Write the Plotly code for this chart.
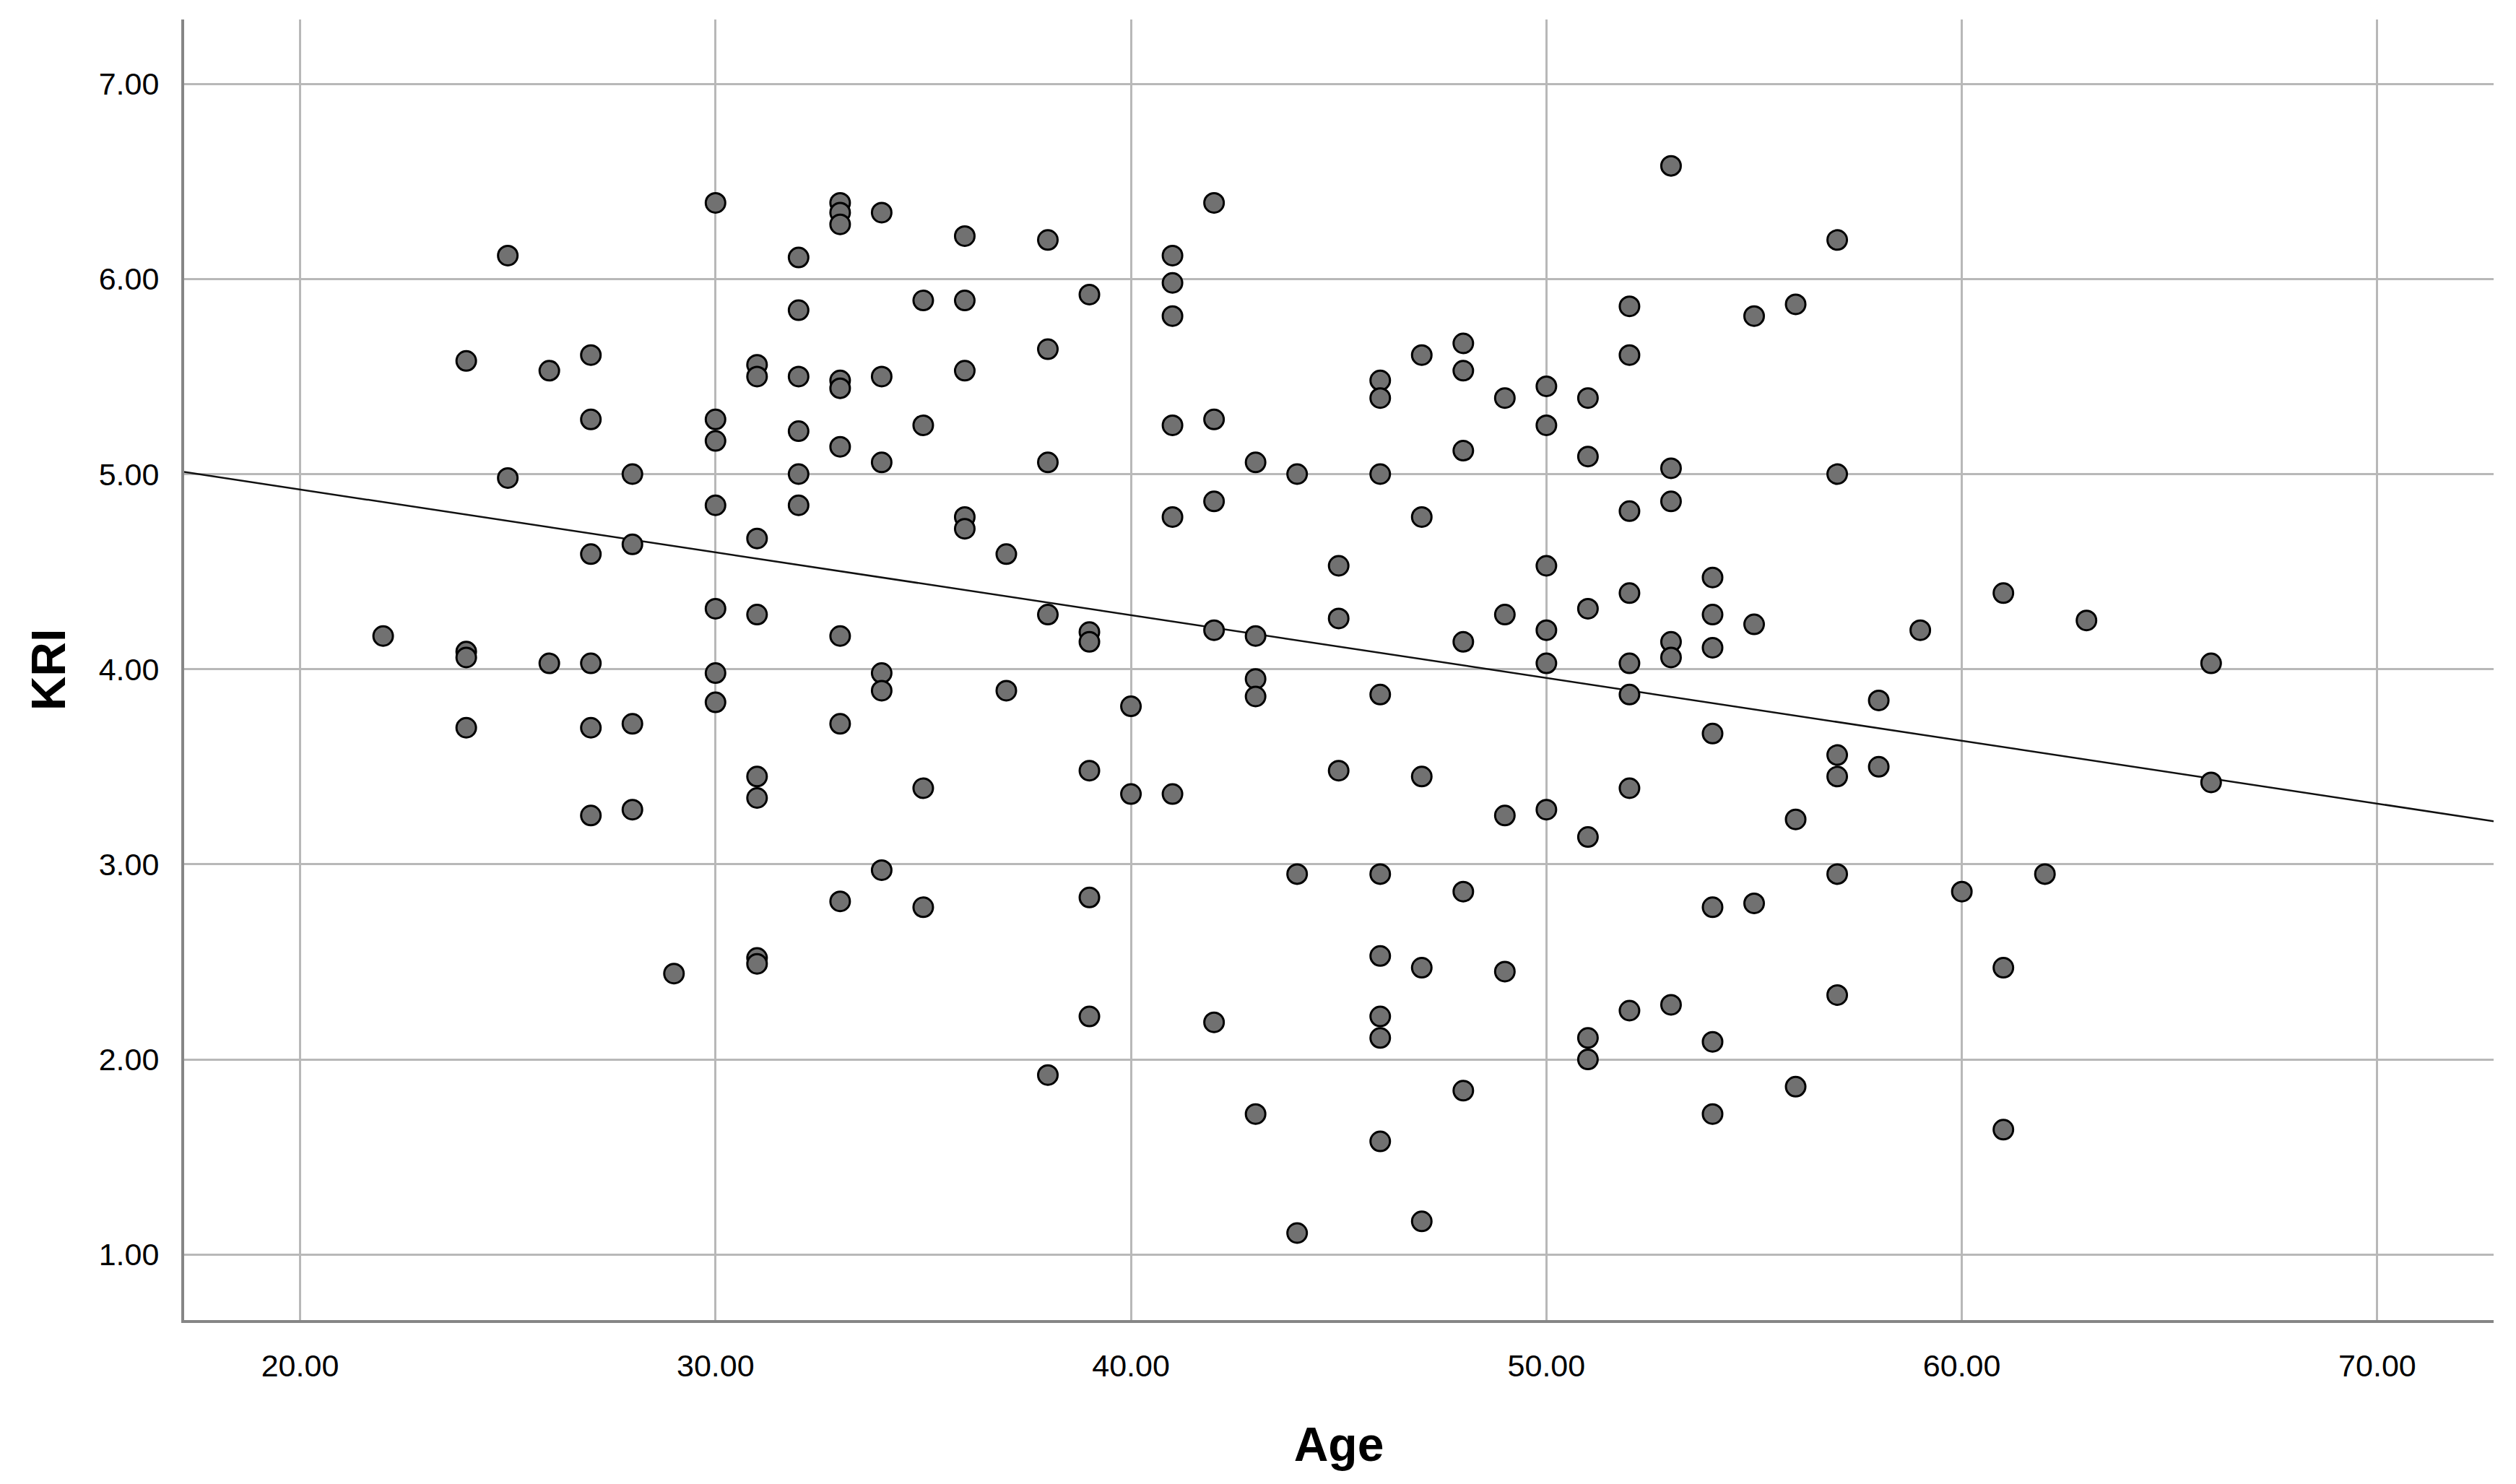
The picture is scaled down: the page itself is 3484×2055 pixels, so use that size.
import plotly.graph_objects as go

# ---- data (Age vs KRI) ----
age = [
    22,
    24, 24, 24, 24,
    25, 25,
    26, 26,
    27, 27, 27, 27, 27, 27,
    28, 28, 28, 28,
    29,
    30, 30, 30, 30, 30, 30, 30,
    31, 31, 31, 31, 31, 31, 31, 31,
    32, 32, 32, 32, 32, 32,
    33, 33, 33, 33, 33, 33, 33, 33, 33,
    34, 34, 34, 34, 34, 34,
    35, 35, 35, 35,
    36, 36, 36, 36, 36,
    37, 37,
    38, 38, 38, 38, 38,
    39, 39, 39, 39, 39, 39,
    40, 40,
    41, 41, 41, 41, 41, 41,
    42, 42, 42, 42, 42,
    43, 43, 43, 43, 43,
    44, 44, 44,
    45, 45, 45,
    46, 46, 46, 46, 46, 46, 46, 46, 46,
    47, 47, 47, 47, 47,
    48, 48, 48, 48, 48, 48,
    49, 49, 49, 49,
    50, 50, 50, 50, 50, 50,
    51, 51, 51, 51, 51, 51,
    52, 52, 52, 52, 52, 52, 52, 52,
    53, 53, 53, 53, 53, 53,
    54, 54, 54, 54, 54, 54, 54,
    55, 55, 55,
    56, 56, 56,
    57, 57, 57, 57, 57, 57,
    58, 58,
    59,
    60,
    61, 61, 61,
    62,
    63,
    66, 66,
]
kri = [
    4.17,
    5.58, 4.09, 4.06, 3.70,
    6.12, 4.98,
    5.53, 4.03,
    5.61, 5.28, 4.59, 4.03, 3.70, 3.25,
    5.00, 4.64, 3.72, 3.28,
    2.44,
    6.39, 5.28, 5.17, 4.84, 4.31, 3.98, 3.83,
    5.56, 5.50, 4.67, 4.28, 3.45, 3.34, 2.52, 2.49,
    6.11, 5.84, 5.50, 5.22, 5.00, 4.84,
    6.39, 6.34, 6.28, 5.48, 5.44, 5.14, 4.17, 3.72, 2.81,
    6.34, 5.50, 5.06, 3.98, 3.89, 2.97,
    5.89, 5.25, 3.39, 2.78,
    6.22, 5.89, 5.53, 4.78, 4.72,
    4.59, 3.89,
    6.20, 5.64, 5.06, 4.28, 1.92,
    5.92, 4.19, 4.14, 3.48, 2.83, 2.22,
    3.81, 3.36,
    6.12, 5.98, 5.81, 5.25, 4.78, 3.36,
    6.39, 5.28, 4.86, 4.20, 2.19,
    5.06, 4.17, 3.95, 3.86, 1.72,
    5.00, 2.95, 1.11,
    4.53, 4.26, 3.48,
    5.48, 5.39, 5.00, 3.87, 2.95, 2.53, 2.22, 2.11, 1.58,
    5.61, 4.78, 3.45, 2.47, 1.17,
    5.67, 5.53, 5.12, 4.14, 2.86, 1.84,
    5.39, 4.28, 3.25, 2.45,
    5.45, 5.25, 4.53, 4.20, 4.03, 3.28,
    5.39, 5.09, 4.31, 3.14, 2.11, 2.00,
    5.86, 5.61, 4.81, 4.39, 4.03, 3.87, 3.39, 2.25,
    6.58, 5.03, 4.86, 4.14, 4.06, 2.28,
    4.47, 4.28, 4.11, 3.67, 2.78, 2.09, 1.72,
    5.81, 4.23, 2.80,
    5.87, 3.23, 1.86,
    6.20, 5.00, 3.56, 3.45, 2.95, 2.33,
    3.84, 3.50,
    4.20,
    2.86,
    4.39, 2.47, 1.64,
    2.95,
    4.25,
    4.03, 3.42,
]

# fitted regression line
fit_intercept = 5.565
fit_slope = -0.0322

x_range = [17.21, 72.80]
y_range = [0.664, 7.33]
x_ticks = [20, 30, 40, 50, 60, 70]
y_ticks = [1, 2, 3, 4, 5, 6, 7]

fit_x = x_range
fit_y = [fit_intercept + fit_slope * v for v in fit_x]

fig = go.Figure()
fig.add_trace(go.Scatter(
    x=fit_x, y=fit_y, mode="lines",
    line=dict(color="#111111", width=2.5),
    hoverinfo="skip", showlegend=False,
))
fig.add_trace(go.Scatter(
    x=age, y=kri, mode="markers",
    marker=dict(size=27, color="#717171", line=dict(color="#000000", width=3)),
    showlegend=False,
))

tick_font = dict(family="Liberation Sans, Arial, sans-serif", size=43, color="#000000")
title_font = dict(family="Liberation Sans, Arial, sans-serif", size=66, color="#000000")

fig.update_layout(
    width=3484, height=2055,
    margin=dict(l=255, r=31, t=27, b=227),
    paper_bgcolor="white", plot_bgcolor="white",
    showlegend=False,
)
fig.update_xaxes(
    range=x_range, tickvals=x_ticks, tickformat=".2f",
    showgrid=True, gridcolor="#b8b8b8", gridwidth=3,
    showline=True, linecolor="#868686", linewidth=4, mirror=False,
    zeroline=False,
    ticks="outside", ticklen=22, tickcolor="rgba(0,0,0,0)",
    tickfont=tick_font,
    title=dict(text="<b>Age</b>", font=title_font, standoff=64),
)
fig.update_yaxes(
    range=y_range, tickvals=y_ticks, tickformat=".2f",
    showgrid=True, gridcolor="#b8b8b8", gridwidth=3,
    showline=True, linecolor="#868686", linewidth=4, mirror=False,
    zeroline=False,
    ticks="outside", ticklen=22, tickcolor="rgba(0,0,0,0)",
    tickfont=tick_font,
    title=dict(text="<b>KRI</b>", font=title_font, standoff=26),
)

fig.write_html(
    "out.html",
    config={"displayModeBar": False},
    post_script="document.body.style.margin='0px';document.body.style.overflow='hidden';",
)
